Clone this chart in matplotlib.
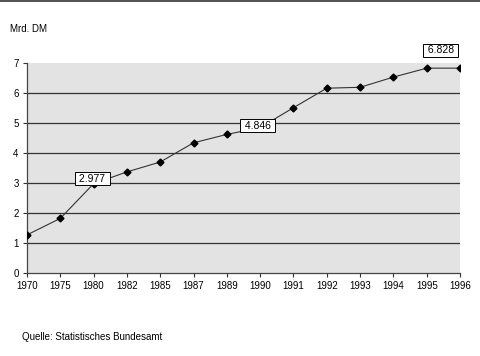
import matplotlib.pyplot as plt
from matplotlib.lines import Line2D

plt.rcParams['font.family'] = ['Liberation Sans', 'DejaVu Sans']

# Data (Mrd. DM)
years = ['1970', '1975', '1980', '1982', '1985', '1987', '1989',
         '1990', '1991', '1992', '1993', '1994', '1995', '1996']
values = [1.27, 1.82, 2.977, 3.37, 3.70, 4.34, 4.62,
          4.846, 5.51, 6.16, 6.19, 6.53, 6.828, 6.828]

# labelled points: index, text, offset in points
labels = [(2, '2.977', (-1, 3.5)), (7, '4.846', (-2, 1.5)), (12, '6.828', (10, 13))]

fig = plt.figure(figsize=(4.8, 3.56), dpi=100)
ax = fig.add_axes([27 / 480, 1 - 273 / 356, 433 / 480, 210 / 356])

ax.set_facecolor('#e3e3e3')
x = list(range(len(years)))
ax.plot(x, values, color='#333333', lw=0.8, marker='D', markersize=3.5,
        markerfacecolor='black', markeredgecolor='black', zorder=3)

for i, txt, off in labels:
    ax.annotate(' ' + txt + ' ', (x[i], values[i]), xytext=off, textcoords='offset points',
                ha='center', va='center', fontsize=7.5, zorder=5,
                bbox=dict(boxstyle='square,pad=0.15', fc='white', ec='black', lw=0.7))

ax.set_xlim(0, len(years) - 1)
ax.set_ylim(0, 7)
ax.set_xticks(x)
ax.set_xticklabels(years)
ax.set_yticks(range(8))
ax.tick_params(labelsize=7, length=3, width=0.8, color='#333333', pad=3)

for v in range(1, 7):
    ax.axhline(v, color='#333333', lw=0.9, zorder=1)

for s in ['top', 'right']:
    ax.spines[s].set_visible(False)
for s in ['left', 'bottom']:
    ax.spines[s].set_color('#444444')
    ax.spines[s].set_linewidth(0.9)

fig.text(10 / 480, 1 - 29 / 356, 'Mrd. DM', fontsize=7, va='center', ha='left')
fig.text(22 / 480, 1 - 337 / 356, 'Quelle: Statistisches Bundesamt', fontsize=7,
         va='center', ha='left')
fig.add_artist(Line2D([0, 1], [1 - 0.5 / 356] * 2, color='#333333', lw=1.2,
                      transform=fig.transFigure))

fig.savefig('out.png', dpi=100)
